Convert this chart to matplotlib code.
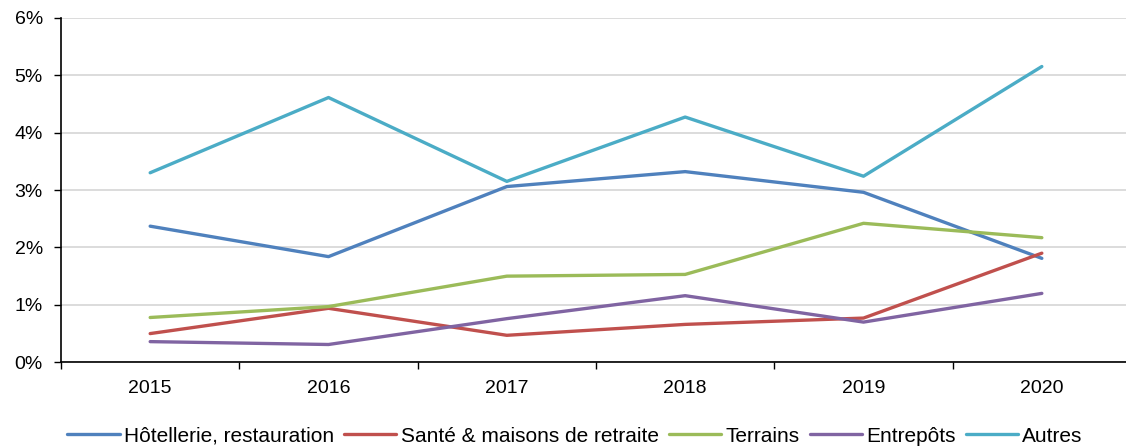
import numpy as np
import matplotlib.pyplot as plt
from matplotlib.ticker import FuncFormatter, FixedLocator

plt.rcParams['font.family'] = ['Liberation Sans', 'DejaVu Sans']

# Data (in %)
years = ['2015', '2016', '2017', '2018', '2019', '2020']
hotellerie = [2.37, 1.84, 3.06, 3.32, 2.96, 1.81]
sante = [0.50, 0.94, 0.47, 0.66, 0.77, 1.90]
terrains = [0.78, 0.97, 1.50, 1.53, 2.42, 2.17]
entrepots = [0.36, 0.31, 0.76, 1.16, 0.70, 1.20]
autres = [3.30, 4.61, 3.15, 4.27, 3.24, 5.15]

series = [
    ('Hôtellerie, restauration', hotellerie, '#4F81BD'),
    ('Santé & maisons de retraite', sante, '#C0504D'),
    ('Terrains', terrains, '#9BBB59'),
    ('Entrepôts', entrepots, '#8064A2'),
    ('Autres', autres, '#4BACC6'),
]

W, H = 1126, 448
fig = plt.figure(figsize=(W / 100, H / 100), dpi=100)
left, right, top, bottom = 61, 1131, 17.7, 362.3
ax = fig.add_axes([left / W, 1 - bottom / H, (right - left) / W, (bottom - top) / H])

x = np.arange(len(years))
for name, vals, col in series:
    ax.plot(x, vals, color=col, lw=2.4, label=name, solid_capstyle='round')

ax.set_xlim(-0.5, len(years) - 0.5)
ax.set_ylim(0, 6)
ax.set_yticks(range(0, 7))
ax.yaxis.set_major_formatter(FuncFormatter(lambda v, p: f'{int(v)}%'))
ax.grid(axis='y', color='#D9D9D9', lw=1.3)
ax.set_axisbelow(True)

# category boundaries as major ticks, labels on minor ticks
ax.xaxis.set_major_locator(FixedLocator(np.arange(-0.5, len(years), 1)))
ax.xaxis.set_major_formatter(FuncFormatter(lambda v, p: ''))
ax.set_xticks(x, minor=True)
ax.set_xticklabels(years, minor=True)
ax.tick_params(axis='x', which='major', length=5, width=1, direction='out')
ax.tick_params(axis='x', which='minor', length=0, pad=12.5, labelsize=14)
ax.tick_params(axis='y', length=5, width=1, direction='out', pad=8, labelsize=14)

for s in ['top', 'right']:
    ax.spines[s].set_visible(False)
for s in ['left', 'bottom']:
    ax.spines[s].set_color('black')
    ax.spines[s].set_linewidth(1.2)

fig.legend(loc='center', bbox_to_anchor=(575 / W, 1 - 436 / H), ncol=5, frameon=False,
           fontsize=15, handlelength=2.5, handletextpad=0.2, columnspacing=0.5,
           borderaxespad=0, borderpad=0)

fig.savefig('out.png', dpi=100)
